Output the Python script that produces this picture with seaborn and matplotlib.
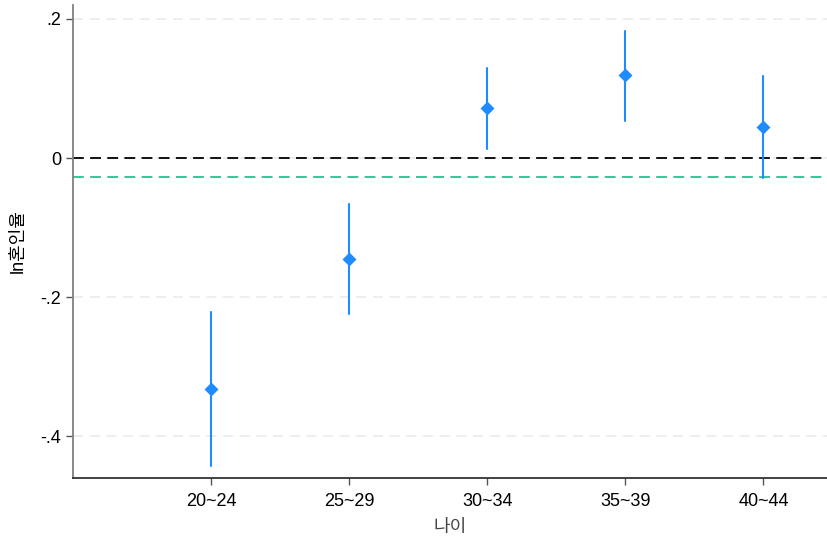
import numpy as np
import pandas as pd
import matplotlib
matplotlib.use("Agg")
import matplotlib.pyplot as plt
import seaborn as sns

# age groups and coefficient estimates with 95% CI
ages = ["20~24", "25~29", "30~34", "35~39", "40~44"]
coef = [-0.332, -0.145, 0.072, 0.119, 0.045]
ci_lo = [-0.443, -0.224, 0.013, 0.053, -0.029]
ci_hi = [-0.222, -0.066, 0.129, 0.183, 0.118]
ref_line = -0.027  # green dashed reference

sns.set_style("white")
plt.rcParams['font.family'] = ['Liberation Sans', 'Noto Sans CJK KR']

# long table: lo / est / hi for each group -> median = est, min/max = CI
df = pd.DataFrame({
    "age": ages * 3,
    "val": ci_lo + coef + ci_hi,
})

fig = plt.figure(figsize=(8.27, 5.37), dpi=100)
ax = fig.add_axes([0.0883, 0.1099, 0.9117, 0.8808])

for yv in [0.2, 0.0, -0.2, -0.4]:
    ax.axhline(yv, color="#ebebeb", lw=1.2, ls=(0, (6, 4)), zorder=0)
ax.axhline(0, color="black", lw=1.3, ls=(0, (6, 3.5)), zorder=1)
ax.axhline(ref_line, color="#26c28c", lw=1.3, ls=(0, (6, 3.5)), zorder=1)

sns.pointplot(data=df, x="age", y="val", order=ages,
              estimator="median", errorbar=lambda v: (v.min(), v.max()),
              color="#1e8cff", linestyle="none", markers="D",
              markersize=5, err_kws={"linewidth": 1.5}, ax=ax, zorder=3)

ax.set_xlim(-1, 4.46)
ax.set_ylim(-0.46, 0.22)
ax.set_yticks([0.2, 0.0, -0.2, -0.4])
ax.set_yticklabels([".2", "0", "-.2", "-.4"])
ax.tick_params(axis="both", labelsize=13, length=5, width=1,
               color="#555555", labelcolor="black", direction="out",
               bottom=True, left=True)
ax.tick_params(axis="x", pad=6)

ax.set_xlabel("나이", fontsize=13, color="#444444", labelpad=6)
ax.set_ylabel("ln혼인율", fontsize=13, color="black")
ax.yaxis.set_label_coords(-0.061, 0.5)

sns.despine(ax=ax, top=True, right=True)
ax.spines["left"].set_color("#808080")
ax.spines["left"].set_linewidth(1.3)
ax.spines["bottom"].set_color("#222222")
ax.spines["bottom"].set_linewidth(1.2)

fig.savefig("out.png", dpi=100)
